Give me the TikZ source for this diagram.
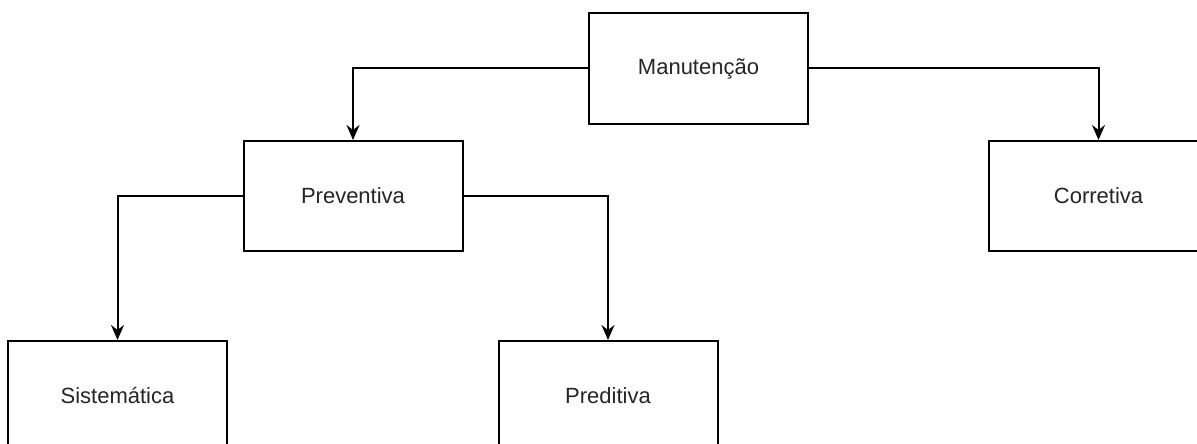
\documentclass[tikz,border=0pt]{standalone}
\usepackage{fontspec}
\setmainfont{Liberation Sans}
\usetikzlibrary{arrows.meta}
\begin{document}
\begin{tikzpicture}[x=1pt,y=-1pt,
  box/.style={draw=black,line width=2pt,fill=white,rectangle,
    minimum width=219pt,minimum height=110pt,inner sep=0pt,
    text=black!85,font=\fontsize{22}{26}\selectfont},
  link/.style={draw=black,line width=2pt,
    -{Stealth[length=15pt,width=13pt,inset=5pt]}}]
  \clip (0,0) rectangle (1197,444);
  \fill[white] (0,0) rectangle (1197,444);

  % the classification tree
  \node[box] (man)  at (698.5,68.5) {Manutenção};
  \node[box] (prev) at (353,196)    {Preventiva};
  \node[box] (corr) at (1098.5,196) {Corretiva};
  \node[box] (sis)  at (117.5,396)  {Sistemática};
  \node[box] (pred) at (608,396)    {Preditiva};

  % elbow connectors from parent sides down to child tops
  \draw[link] (man.west)  -| (prev.north);
  \draw[link] (man.east)  -| (corr.north);
  \draw[link] (prev.west) -| (sis.north);
  \draw[link] (prev.east) -| (pred.north);
\end{tikzpicture}
\end{document}
